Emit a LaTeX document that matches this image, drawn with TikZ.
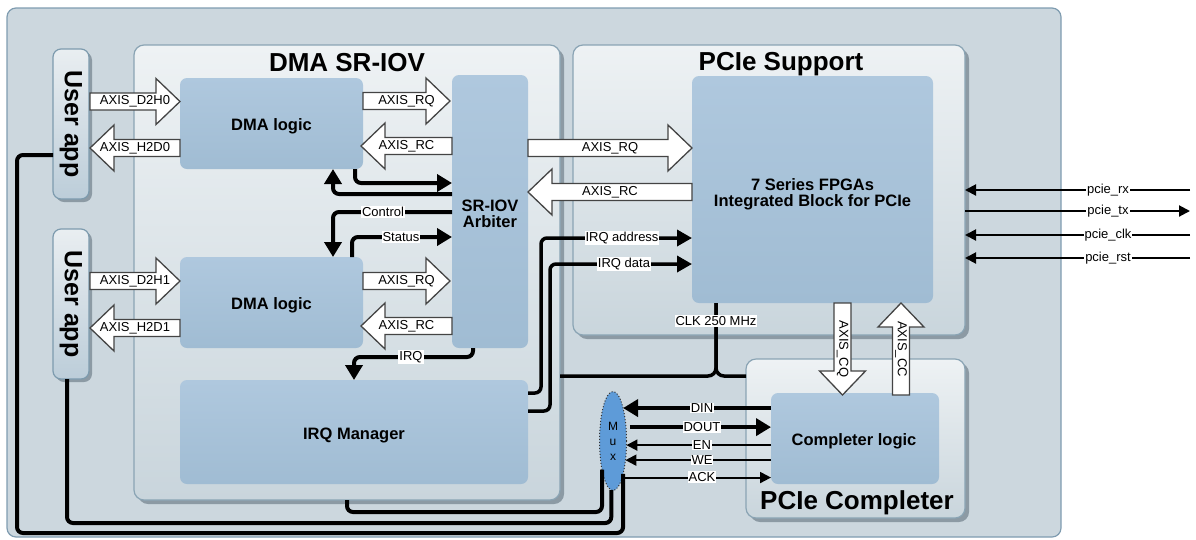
\documentclass[tikz,border=0pt]{standalone}
\usepackage{fontspec}
\setmainfont{Liberation Sans}
\usetikzlibrary{arrows.meta,shapes.geometric,shadows}
\definecolor{outerfill}{HTML}{CCD7DE}
\definecolor{outerdraw}{HTML}{7F9CB0}
\definecolor{conttop}{HTML}{EEF2F4}
\definecolor{contbot}{HTML}{C9D5DC}
\definecolor{contdraw}{HTML}{8AA4B4}
\definecolor{blktop}{HTML}{AFC8DE}
\definecolor{blkbot}{HTML}{A0BCD3}
\definecolor{uatop}{HTML}{E9EEF1}
\definecolor{uabot}{HTML}{BCCDD9}
\definecolor{uadraw}{HTML}{7D9BAE}
\definecolor{shadowc}{HTML}{8C9AA4}
\definecolor{muxfill}{HTML}{5E9BD8}
\definecolor{arrdraw}{HTML}{444444}
% horizontal block arrow: tail x, tip x, y, label, name
\newcommand\harr[5]{%
  \pgfmathsetmacro\hb{#2-sign(#2-#1)*24}%
  \draw[barr] (#1,#3-8.5) -- (\hb,#3-8.5) -- (\hb,#3-23) -- (#2,#3) -- (\hb,#3+23) -- (\hb,#3+8.5) -- (#1,#3+8.5) -- cycle;
  \node[albl] (#5) at ({(#1+#2)/2},#3) {#4};}
% vertical block arrow: x, tail y, tip y, label, name
\newcommand\varr[5]{%
  \pgfmathsetmacro\vb{#3-sign(#3-#2)*24}%
  \draw[barr] (#1-8.5,#2) -- (#1-8.5,\vb) -- (#1-23,\vb) -- (#1,#3) -- (#1+23,\vb) -- (#1+8.5,\vb) -- (#1+8.5,#2) -- cycle;
  \node[albl,rotate=-90] (#5) at (#1,{(#2+#3)/2}) {#4};}
\begin{document}
\begin{tikzpicture}[x=1pt,y=-1pt,
  box/.style={rectangle, inner sep=0pt, outer sep=0pt},
  outerbox/.style={box, draw=outerdraw, line width=1.2pt, fill=outerfill, rounded corners=9pt},
  cont/.style={box, draw=contdraw, line width=1.2pt, top color=conttop, bottom color=contbot, rounded corners=10pt,
    drop shadow={shadow xshift=4pt, shadow yshift=-4pt, fill=shadowc, opacity=1}},
  blk/.style={box, top color=blktop, bottom color=blkbot, rounded corners=7pt},
  blktext/.style={inner sep=0pt, align=center, font=\fontsize{16.5}{16}\selectfont\bfseries},
  ua/.style={box, draw=uadraw, line width=1.2pt, top color=uatop, bottom color=uabot, rounded corners=8pt,
    drop shadow={shadow xshift=3pt, shadow yshift=-3pt, fill=shadowc, opacity=1}},
  uatext/.style={inner sep=0pt, font=\fontsize{25}{25}\selectfont\bfseries},
  title/.style={inner sep=0pt, font=\fontsize{26}{28}\selectfont\bfseries},
  barr/.style={draw=arrdraw, fill=white, line width=1.3pt, line join=miter},
  albl/.style={inner sep=0pt, font=\fontsize{13}{13}\selectfont},
  lbl/.style={fill=white, inner sep=1pt, outer sep=0pt, font=\fontsize{13}{13}\selectfont},
  thk/.style={line width=4pt, rounded corners=6pt},
  thkarr/.style={thk, -{Triangle[length=15pt,width=17pt]}},
  med/.style={line width=3.5pt, rounded corners=6pt},
  medarr/.style={med, -{Triangle[length=15pt,width=16pt]}},
  thn/.style={line width=2pt},
  thnarr/.style={thn, -{Triangle[length=11pt,width=11pt]}},
  muxnode/.style={ellipse, draw=black!80, dotted, line width=1pt, fill=muxfill, minimum width=27pt, minimum height=99pt,
    inner sep=0pt, outer sep=0pt, align=center, font=\fontsize{12}{15}\selectfont}
]
\useasboundingbox (0,0) rectangle (1196,539);

% outer frame
\node[outerbox, minimum width=1054pt, minimum height=529pt] (outer) at (534,272.5) {};

% containers
\node[cont, minimum width=426pt, minimum height=455pt] (dmac) at (347,272.5) {};
\node[title] (dmat) at (347,63) {DMA SR-IOV};
\node[cont, minimum width=392pt, minimum height=290pt] (psc) at (769,190) {};
\node[title] (pst) at (781,64) {PCIe Support};
\node[cont, minimum width=219pt, minimum height=159pt] (pcc) at (855.5,438.5) {};
\node[title] (pcct) at (857,503) {PCIe Completer};

% blocks
\node[blk, minimum width=183pt, minimum height=91pt] (dma1) at (271.5,123.5) {};
\node[blktext] (dma1t) at (271.5,126) {DMA logic};
\node[blk, minimum width=183pt, minimum height=91pt] (dma2) at (271.5,302.5) {};
\node[blktext] (dma2t) at (271.5,305) {DMA logic};
\node[blk, minimum width=348pt, minimum height=104pt] (irq) at (354,432) {};
\node[blktext] (irqt) at (354,435) {IRQ Manager};
\node[blk, minimum width=76pt, minimum height=273pt] (arb) at (490,211.5) {};
\node[blktext] (arbt) at (490,214) {SR-IOV\\Arbiter};
\node[blk, minimum width=241pt, minimum height=227pt] (s7) at (812.5,189.5) {};
\node[blktext] (s7t) at (812.5,194) {7 Series FPGAs\\Integrated Block for PCIe};
\node[blk, minimum width=168pt, minimum height=91pt] (cl) at (855,438.5) {};
\node[blktext] (clt) at (854,441) {Completer logic};

% user apps
\node[ua, minimum width=36pt, minimum height=150pt] (ua1) at (71,124) {};
\node[uatext, rotate=-90] (ua1t) at (ua1) {User app};
\node[ua, minimum width=36pt, minimum height=150pt] (ua2) at (71,304) {};
\node[uatext, rotate=-90] (ua2t) at (ua2) {User app};

% block arrows
\harr{90}{180}{101.5}{AXIS\_D2H0}{d2h0}
\harr{180}{90}{148}{AXIS\_H2D0}{h2d0}
\harr{90}{180}{281}{AXIS\_D2H1}{d2h1}
\harr{180}{90}{328}{AXIS\_H2D1}{h2d1}
\harr{363}{450}{101}{AXIS\_RQ}{rq1}
\harr{452}{361}{146}{AXIS\_RC}{rc1}
\harr{363}{450}{281}{AXIS\_RQ}{rq2}
\harr{452}{361}{326}{AXIS\_RC}{rc2}
\harr{528}{692}{148}{AXIS\_RQ}{rqb}
\harr{692}{528}{192}{AXIS\_RC}{rcb}
\varr{842.5}{303}{395}{AXIS\_CQ}{cq}
\varr{901}{395}{303}{AXIS\_CC}{cc}

% DMA <-> arbiter control lines
\draw[thkarr] ([xshift=-8pt]dma1.south east) |- ([yshift=28.5pt]arb.west);
\draw[thkarr] ([yshift=17.5pt]arb.west) -| ([xshift=-30pt]dma1.south east);
\draw[thkarr] ([yshift=-0.5pt]arb.west) -| ([xshift=-30pt]dma2.north east);
\draw[thkarr] ([xshift=-11pt]dma2.north east) |- ([yshift=-25.5pt]arb.west);
\draw[thkarr] ([xshift=-17pt]arb.south) -- ++(0,9) -| (irq.north);
\node[lbl] (ctl) at (383,212) {Control};
\node[lbl] (sts) at (401,237) {Status};
\node[lbl] (irql) at (411,357) {IRQ};

% IRQ manager -> PCIe block
\draw[medarr] ([yshift=39pt]irq.east) -- ++(13,0) |- ([yshift=-48.5pt]s7.west);
\draw[medarr] ([yshift=21pt]irq.east) -- ++(22,0) |- ([yshift=-74.5pt]s7.west);
\node[lbl] (irqa) at (622,238) {IRQ address};
\node[lbl] (irqd) at (624,264) {IRQ data};

% clock
\draw[line width=3.5pt, rounded corners=8pt] ([xshift=-96.5pt]s7.south) |- ([yshift=-103.5pt]dmac.east);
\draw[line width=3.5pt, rounded corners=8pt] ([xshift=-96.5pt]s7.south) |- ([yshift=62.5pt]pcc.west);
\node[lbl] (clk) at (716,321) {CLK 250 MHz};

% mux
\node[muxnode] (mux) at (613,441) {M\\u\\x};
\draw[thkarr] (cl.west |- mux.73) -- (mux.73);
\draw[thkarr] ([xshift=4pt]mux.47) -- (cl.west |- mux.47);
\draw[thnarr] (cl.west |- mux.343) -- (mux.343);
\draw[thnarr] (cl.west |- mux.303) -- (mux.303);
\draw[thnarr] (mux.284) -- (cl.west |- mux.284);
\node[lbl] (din) at (702,408) {DIN};
\node[lbl] (dout) at (702,427) {DOUT};
\node[lbl] (en) at (702,445) {EN};
\node[lbl] (we) at (702,460) {WE};
\node[lbl] (ack) at (702,477) {ACK};

% lines from mux to user apps / DMA
\draw[thk] (dmac.south) -- ++(0,12) -| (mux.249);
\draw[thk] ([xshift=-4pt]ua2.south) -- ++(0,144) -| (mux.268);
\draw[thk] ([yshift=-31pt]ua1.west) -- ++(-36,0) -- ++(0,378) -| (mux.287);

% PCIe external signals
\coordinate (rx) at (1190,190);
\coordinate (tx) at (1190,211);
\coordinate (pclk) at (1190,235);
\coordinate (rst) at (1190,258);
\draw[thnarr] (rx) -- (psc.east |- rx);
\draw[thnarr] (psc.east |- tx) -- (tx);
\draw[thnarr] (pclk) -- (psc.east |- pclk);
\draw[thnarr] (rst) -- (psc.east |- rst);
\node[lbl] (rxl) at (1108,190) {pcie\_rx};
\node[lbl] (txl) at (1108,211) {pcie\_tx};
\node[lbl] (clkl) at (1108,235) {pcie\_clk};
\node[lbl] (rstl) at (1108,258) {pcie\_rst};
\end{tikzpicture}
\end{document}
